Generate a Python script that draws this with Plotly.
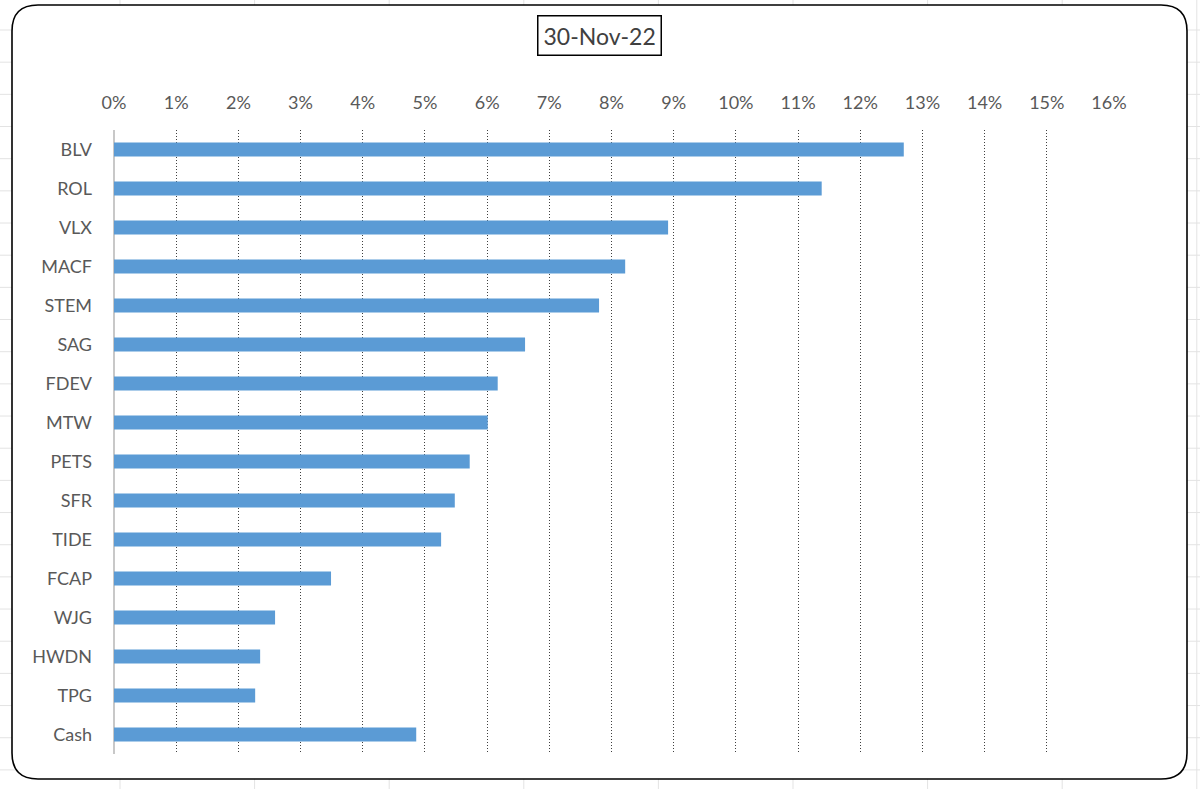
import plotly.graph_objects as go

categories = ["BLV", "ROL", "VLX", "MACF", "STEM", "SAG", "FDEV", "MTW",
              "PETS", "SFR", "TIDE", "FCAP", "WJG", "HWDN", "TPG", "Cash"]
weights = [0.1270, 0.1138, 0.0891, 0.0822, 0.0780, 0.0661, 0.0617, 0.0601,
           0.0572, 0.0548, 0.0526, 0.0349, 0.0259, 0.0235, 0.0227, 0.0486]
tick_vals = [i / 100 for i in range(0, 17)]
tick_text = [f"{i}%" for i in range(0, 17)]
title_text = "30-Nov-22"

W, H = 1200, 789
FONT = "Lato, 'Open Sans', sans-serif"
TXT = "#595959"

def px(x):
    return x / W

def py(y):
    return (H - y) / H

fig = go.Figure()
fig.add_trace(go.Bar(
    y=categories, x=weights, orientation="h",
    marker=dict(color="#5B9BD5", line=dict(width=0)),
    hoverinfo="x+y",
))

shapes = []
# faint spreadsheet grid behind the chart object
vx = 120.0
while vx <= W - 1:
    shapes.append(dict(type="line", xref="paper", yref="paper", layer="below",
                       x0=px(vx), x1=px(vx), y0=0, y1=1,
                       line=dict(color="#E3E3E3", width=1)))
    vx += 134.6
hy = 30.0
while hy <= H - 1:
    shapes.append(dict(type="line", xref="paper", yref="paper", layer="below",
                       x0=0, x1=1, y0=py(hy), y1=py(hy),
                       line=dict(color="#E3E3E3", width=1)))
    hy += 32.17

# rounded chart border
L, T, R, B, r = 12, 5, 1187, 779, 26
path = (f"M {px(L + r)},{py(T)} L {px(R - r)},{py(T)} "
        f"Q {px(R)},{py(T)} {px(R)},{py(T + r)} "
        f"L {px(R)},{py(B - r)} Q {px(R)},{py(B)} {px(R - r)},{py(B)} "
        f"L {px(L + r)},{py(B)} Q {px(L)},{py(B)} {px(L)},{py(B - r)} "
        f"L {px(L)},{py(T + r)} Q {px(L)},{py(T)} {px(L + r)},{py(T)} Z")
shapes.append(dict(type="path", path=path, xref="paper", yref="paper",
                   layer="below", fillcolor="white",
                   line=dict(color="black", width=1.6)))

fig.update_layout(
    width=W, height=H,
    margin=dict(l=0, r=0, t=0, b=0, pad=0, autoexpand=False),
    paper_bgcolor="white",
    plot_bgcolor="rgba(0,0,0,0)",
    showlegend=False,
    bargap=0.64,
    font=dict(family=FONT, color=TXT, size=18),
    shapes=shapes,
    xaxis=dict(
        domain=[px(114), px(1109)],
        range=[0, 0.16],
        side="top",
        tickvals=tick_vals, ticktext=tick_text,
        showgrid=True, gridcolor="#404040", griddash="1px,2px", gridwidth=1,
        zeroline=True, zerolinecolor="#C8C8C8", zerolinewidth=1.5,
        showline=False, ticks="",
        ticklabelstandoff=16,
        tickfont=dict(family=FONT, size=18, color=TXT),
        fixedrange=True, automargin=False,
    ),
    yaxis=dict(
        domain=[py(754), py(130)],
        autorange="reversed",
        categoryorder="array", categoryarray=categories,
        showgrid=False, zeroline=False, showline=False, ticks="",
        ticklabelstandoff=21,
        tickfont=dict(family=FONT, size=18, color=TXT),
        fixedrange=True, automargin=False,
    ),
    annotations=[dict(
        text=title_text, xref="paper", yref="paper",
        x=px(599.5), y=py(35), xanchor="center", yanchor="middle",
        showarrow=False, font=dict(family=FONT, size=23, color="#404040"),
        bordercolor="black", borderwidth=1.5, borderpad=5, bgcolor="white",
    )],
)

fig.write_html("out.html")
